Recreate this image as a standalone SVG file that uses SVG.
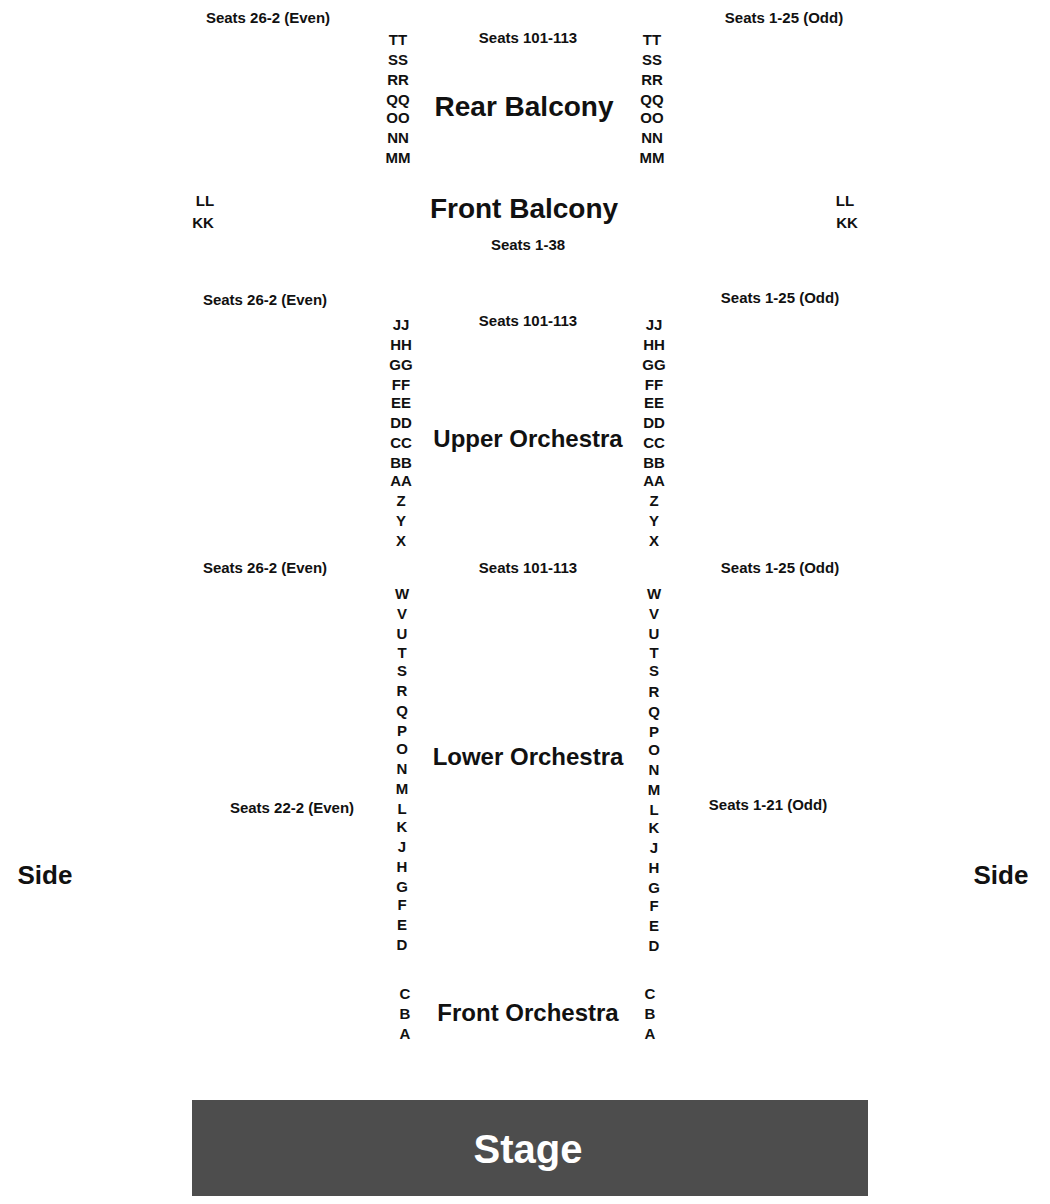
<svg xmlns="http://www.w3.org/2000/svg" width="1050" height="1204" viewBox="0 0 1050 1204">
<style>
text{font-family:"Liberation Sans",Arial,sans-serif;font-weight:bold;fill:#111;text-anchor:middle}
.r{font-size:15px}
.s{font-size:15px}
.t{font-size:24px}
.h{font-size:28px}
</style>
<rect width="1050" height="1204" fill="#fff"/>
<g id="rear-balcony">
<text class="s" x="268" y="23">Seats 26-2 (Even)</text>
<text class="s" x="528" y="43">Seats 101-113</text>
<text class="s" x="784" y="23">Seats 1-25 (Odd)</text>
<text class="h" x="524" y="116">Rear Balcony</text>
<g class="r">
<text class="r" x="398" y="45">TT</text><text class="r" x="398" y="65">SS</text><text class="r" x="398" y="85">RR</text><text class="r" x="398" y="105">QQ</text><text class="r" x="398" y="123">OO</text><text class="r" x="398" y="143">NN</text><text class="r" x="398" y="163">MM</text>
<text class="r" x="652" y="45">TT</text><text class="r" x="652" y="65">SS</text><text class="r" x="652" y="85">RR</text><text class="r" x="652" y="105">QQ</text><text class="r" x="652" y="123">OO</text><text class="r" x="652" y="143">NN</text><text class="r" x="652" y="163">MM</text>
</g>
</g>
<g id="front-balcony">
<text class="r" x="205" y="206">LL</text><text class="r" x="203" y="228">KK</text>
<text class="r" x="845" y="206">LL</text><text class="r" x="847" y="228">KK</text>
<text class="h" x="524" y="218">Front Balcony</text>
<text class="s" x="528" y="250">Seats 1-38</text>
</g>
<g id="upper-orchestra">
<text class="s" x="265" y="305">Seats 26-2 (Even)</text>
<text class="s" x="528" y="326">Seats 101-113</text>
<text class="s" x="780" y="303">Seats 1-25 (Odd)</text>
<text class="t" x="528" y="447">Upper Orchestra</text>
<text class="r" x="401" y="330">JJ</text><text class="r" x="401" y="350">HH</text><text class="r" x="401" y="370">GG</text><text class="r" x="401" y="390">FF</text><text class="r" x="401" y="408">EE</text><text class="r" x="401" y="428">DD</text><text class="r" x="401" y="448">CC</text><text class="r" x="401" y="468">BB</text><text class="r" x="401" y="486">AA</text><text class="r" x="401" y="506">Z</text><text class="r" x="401" y="526">Y</text><text class="r" x="401" y="546">X</text>
<text class="r" x="654" y="330">JJ</text><text class="r" x="654" y="350">HH</text><text class="r" x="654" y="370">GG</text><text class="r" x="654" y="390">FF</text><text class="r" x="654" y="408">EE</text><text class="r" x="654" y="428">DD</text><text class="r" x="654" y="448">CC</text><text class="r" x="654" y="468">BB</text><text class="r" x="654" y="486">AA</text><text class="r" x="654" y="506">Z</text><text class="r" x="654" y="526">Y</text><text class="r" x="654" y="546">X</text>
</g>
<g id="lower-orchestra">
<text class="s" x="265" y="573">Seats 26-2 (Even)</text>
<text class="s" x="528" y="573">Seats 101-113</text>
<text class="s" x="780" y="573">Seats 1-25 (Odd)</text>
<text class="s" x="292" y="813">Seats 22-2 (Even)</text>
<text class="s" x="768" y="810">Seats 1-21 (Odd)</text>
<text class="t" x="528" y="765">Lower Orchestra</text>
<text class="r" x="402" y="599">W</text><text class="r" x="402" y="619">V</text><text class="r" x="402" y="639">U</text><text class="r" x="402" y="658">T</text><text class="r" x="402" y="676">S</text><text class="r" x="402" y="696">R</text><text class="r" x="402" y="716">Q</text><text class="r" x="402" y="736">P</text><text class="r" x="402" y="754">O</text><text class="r" x="402" y="774">N</text><text class="r" x="402" y="794">M</text><text class="r" x="402" y="814">L</text><text class="r" x="402" y="832">K</text><text class="r" x="402" y="852">J</text><text class="r" x="402" y="872">H</text><text class="r" x="402" y="892">G</text><text class="r" x="402" y="910">F</text><text class="r" x="402" y="930">E</text><text class="r" x="402" y="950">D</text>
<text class="r" x="654" y="599">W</text><text class="r" x="654" y="619">V</text><text class="r" x="654" y="639">U</text><text class="r" x="654" y="658">T</text><text class="r" x="654" y="676">S</text><text class="r" x="654" y="697">R</text><text class="r" x="654" y="717">Q</text><text class="r" x="654" y="737">P</text><text class="r" x="654" y="755">O</text><text class="r" x="654" y="775">N</text><text class="r" x="654" y="795">M</text><text class="r" x="654" y="815">L</text><text class="r" x="654" y="833">K</text><text class="r" x="654" y="853">J</text><text class="r" x="654" y="873">H</text><text class="r" x="654" y="893">G</text><text class="r" x="654" y="911">F</text><text class="r" x="654" y="931">E</text><text class="r" x="654" y="951">D</text>
</g>
<g id="sides">
<text class="h" x="45" y="884" style="font-size:26px">Side</text>
<text class="h" x="1001" y="884" style="font-size:26px">Side</text>
</g>
<g id="front-orchestra">
<text class="t" x="528" y="1021">Front Orchestra</text>
<text class="r" x="405" y="999">C</text><text class="r" x="405" y="1019">B</text><text class="r" x="405" y="1039">A</text>
<text class="r" x="650" y="999">C</text><text class="r" x="650" y="1019">B</text><text class="r" x="650" y="1039">A</text>
</g>
<g id="stage">
<rect x="192" y="1100" width="676" height="96" fill="#4d4d4d"/>
<text x="528" y="1163" style="font-size:40px;fill:#fff">Stage</text>
</g>
<g id="connectors"/>
</svg>
